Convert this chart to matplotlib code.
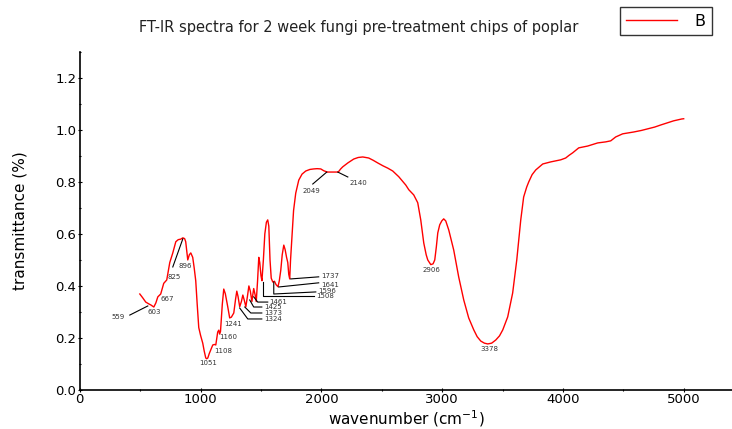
import matplotlib
matplotlib.use("Agg")
import matplotlib.pyplot as plt
from matplotlib.ticker import MultipleLocator

# FT-IR spectrum
wavenumber = [
    497, 520, 546, 575, 588, 613, 630, 646, 670, 695, 720, 745, 770, 795, 815,
    836, 853, 868, 877, 887, 894, 907, 919, 935, 947, 960, 972, 985, 1000, 1018,
    1030, 1043, 1051, 1060, 1072, 1084, 1101, 1115, 1126, 1135, 1142, 1151, 1158,
    1165, 1180, 1192, 1205, 1225, 1241, 1255, 1275, 1290, 1300, 1310, 1324, 1338,
    1350, 1362, 1375, 1388, 1400, 1412, 1425, 1432, 1440, 1452, 1461, 1472, 1482,
    1490, 1500, 1508, 1520, 1532, 1545, 1556, 1565, 1575, 1585, 1598, 1612, 1625,
    1641, 1652, 1664, 1676, 1689, 1700, 1712, 1722, 1730, 1738, 1745, 1758, 1770,
    1788, 1813, 1840, 1871, 1905, 1937, 1965, 1995, 2020, 2049, 2078, 2110, 2140,
    2160, 2177, 2219, 2268, 2305, 2343, 2392, 2430, 2467, 2510, 2550, 2591, 2641,
    2699, 2724, 2765, 2798, 2823, 2848, 2868, 2881, 2906, 2925, 2939, 2952, 2964,
    2980, 2997, 3013, 3030, 3055, 3096, 3137, 3179, 3220, 3262, 3290, 3320, 3350,
    3378, 3410, 3444, 3475, 3502, 3543, 3584, 3618, 3651, 3675, 3700, 3717, 3745,
    3775, 3833, 3899, 3950, 3982, 4023, 4050, 4081, 4131, 4205, 4288, 4354, 4396,
    4437, 4495, 4586, 4650, 4702, 4760, 4810, 4870, 4917, 4983, 5000,
]
transmittance = [
    0.369, 0.355, 0.338, 0.330, 0.327, 0.319, 0.335, 0.358, 0.369, 0.410, 0.423,
    0.490, 0.527, 0.570, 0.578, 0.580, 0.585, 0.582, 0.570, 0.530, 0.500, 0.520,
    0.527, 0.510, 0.470, 0.420, 0.330, 0.240, 0.210, 0.180, 0.150, 0.123, 0.120,
    0.123, 0.140, 0.154, 0.173, 0.175, 0.173, 0.200, 0.223, 0.230, 0.215, 0.225,
    0.330, 0.388, 0.370, 0.320, 0.277, 0.280, 0.296, 0.350, 0.380, 0.360, 0.320,
    0.340, 0.365, 0.345, 0.320, 0.360, 0.400, 0.380, 0.340, 0.365, 0.390, 0.365,
    0.340, 0.420, 0.510, 0.490, 0.440, 0.420, 0.500, 0.600, 0.645, 0.654, 0.630,
    0.500, 0.430, 0.415, 0.418, 0.405, 0.397, 0.420, 0.460, 0.520, 0.557, 0.540,
    0.510, 0.490, 0.445, 0.427, 0.500, 0.600, 0.690, 0.757, 0.807, 0.830, 0.842,
    0.848, 0.850, 0.851, 0.850, 0.843, 0.838, 0.838, 0.838, 0.838, 0.850, 0.858,
    0.873, 0.888, 0.894, 0.896, 0.892, 0.883, 0.873, 0.862, 0.853, 0.842, 0.820,
    0.788, 0.770, 0.750, 0.720, 0.654, 0.565, 0.520, 0.500, 0.482, 0.485, 0.500,
    0.550, 0.604, 0.635, 0.650, 0.658, 0.650, 0.615, 0.538, 0.435, 0.346, 0.277,
    0.231, 0.205, 0.188, 0.180, 0.177, 0.180, 0.192, 0.208, 0.231, 0.281, 0.373,
    0.500, 0.654, 0.742, 0.780, 0.800, 0.828, 0.846, 0.869, 0.877, 0.882, 0.885,
    0.892, 0.902, 0.912, 0.931, 0.938, 0.950, 0.954, 0.958, 0.973, 0.985, 0.992,
    0.998, 1.004, 1.011, 1.019, 1.028, 1.035, 1.042, 1.043,
]

# peak labels: text, text anchor (x, y, alignment), leader line points
peak_labels = ["559", "603", "667", "825", "896", "1051", "1108", "1160", "1241",
               "1324", "1373", "1425", "1461", "1508", "1596", "1641", "1737",
               "2049", "2140", "2906", "3378"]
label_x = [315, 613, 728, 778, 877, 1060, 1184, 1233, 1267,
           1525, 1525, 1525, 1570, 1955, 1975, 2000, 2000,
           1920, 2310, 2914, 3394]
label_y = [0.281, 0.300, 0.350, 0.435, 0.477, 0.104, 0.150, 0.204, 0.254,
           0.273, 0.296, 0.319, 0.340, 0.360, 0.380, 0.404, 0.437,
           0.765, 0.796, 0.462, 0.158]
label_ha = ["center"] * 9 + ["left"] * 8 + ["center"] * 4
leader_x = [[414, 563], None, None, None, [770, 853], None, None, None, None,
            [1324, 1391, 1507], [1366, 1416, 1507], [1407, 1440, 1507],
            [1440, 1473, 1556], [1515, 1515, 1937], [1606, 1606, 1954],
            [1647, 1978], [1747, 1978], [1929, 2045], [2136, 2219], None, None]
leader_y = [[0.288, 0.323], None, None, None, [0.473, 0.581], None, None, None, None,
            [0.315, 0.273, 0.273], [0.319, 0.296, 0.296], [0.346, 0.319, 0.319],
            [0.358, 0.338, 0.338], [0.415, 0.362, 0.362], [0.415, 0.369, 0.377],
            [0.396, 0.412], [0.427, 0.435], [0.792, 0.838], [0.838, 0.819], None, None]

fig = plt.figure(figsize=(7.32, 4.29), dpi=100)
ax = fig.add_axes([0.109, 0.091, 0.891, 0.788])

line, = ax.plot(wavenumber, transmittance, color="#ff0000", lw=1.0)

for i, lab in enumerate(peak_labels):
    if leader_x[i] is not None:
        ax.plot(leader_x[i], leader_y[i], color="black", lw=0.8)
    ax.text(label_x[i], label_y[i], lab, fontsize=5, color="#333333",
            ha=label_ha[i], va="center")

ax.set_xlim(0, 5400)
ax.set_ylim(0, 1.3)
ax.xaxis.set_minor_locator(MultipleLocator(500))
ax.yaxis.set_minor_locator(MultipleLocator(0.1))
ax.set_yticks([0, 0.2, 0.4, 0.6, 0.8, 1.0, 1.2])
ax.set_yticklabels(["0.0", "0.2", "0.4", "0.6", "0.8", "1.0", "1.2"])
ax.set_xticks([0, 1000, 2000, 3000, 4000, 5000])
ax.set_xticklabels(["0", "1000", "2000", "3000", "4000", "5000"])

ax.spines["top"].set_visible(False)
ax.spines["right"].set_visible(False)
ax.spines["left"].set_linewidth(1.2)
ax.spines["bottom"].set_linewidth(1.2)
ax.tick_params(which="both", direction="inout", length=3, width=0.8,
               labelsize=9.5, colors="black", pad=1)
ax.tick_params(which="minor", length=2)

ax.set_xlabel("wavenumber (cm$^{-1}$)", fontsize=11, labelpad=1)
ax.set_ylabel("transmittance (%)", fontsize=11, labelpad=20)

fig.text(0.49, 0.937, "FT-IR spectra for 2 week fungi pre-treatment chips of poplar",
         fontsize=10.5, ha="center", va="center", color="#222222")

leg = fig.legend([line], ["B"], loc="upper right", bbox_to_anchor=(0.973, 0.983),
                 frameon=True, fancybox=False, fontsize=11.5, handlelength=3.2,
                 borderpad=0.4, handletextpad=1.1, borderaxespad=0)
leg.get_frame().set_edgecolor("black")
leg.get_frame().set_linewidth(1.0)

fig.savefig("out.png", dpi=100)
